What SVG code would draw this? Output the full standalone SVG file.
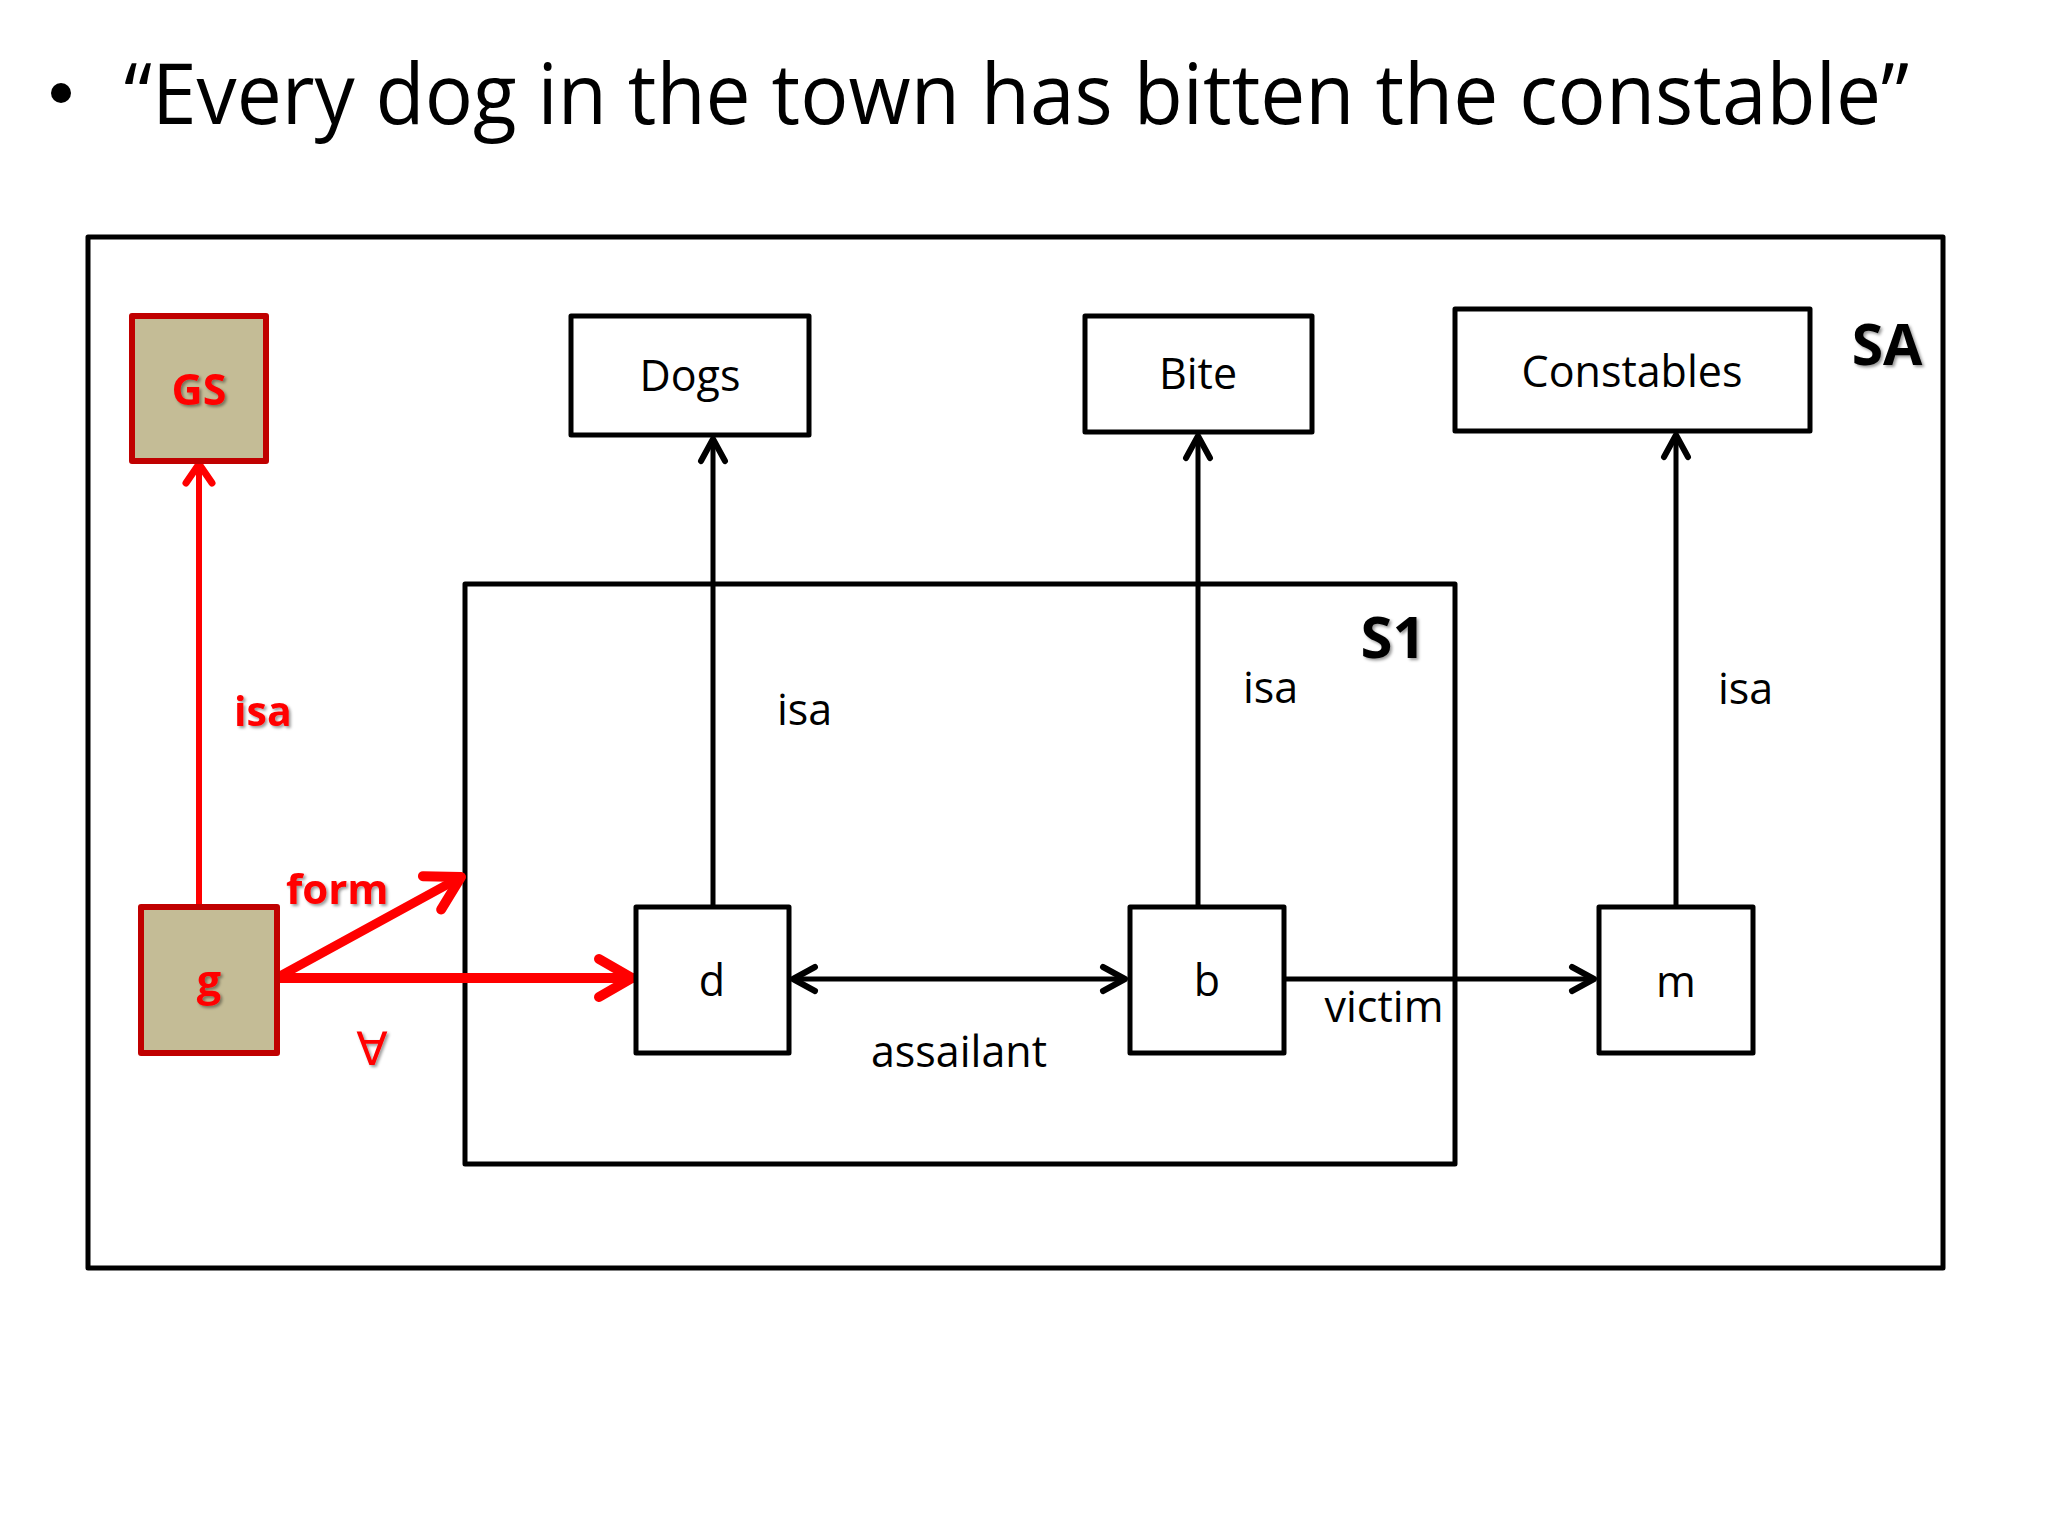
<svg xmlns="http://www.w3.org/2000/svg" width="2048" height="1536" viewBox="0 0 2048 1536">
<defs>
<style>
.box{fill:#fff;stroke:#000;stroke-width:5;stroke-linejoin:round}
.rbox{fill:#C4BC96;stroke:#C00000;stroke-width:6;stroke-linejoin:round}
.lbl{font-family:"Open Sans","Liberation Sans",sans-serif;font-size:43px;fill:#000}
.bold{font-family:"Open Sans","Liberation Sans",sans-serif;font-weight:bold}
.red{fill:#FF0000}
.blk{stroke:#000;stroke-width:5;fill:none}
.rl{stroke:#FF0000;fill:none;stroke-linecap:round}
</style>
<filter id="sh" x="-20%" y="-20%" width="140%" height="140%">
<feDropShadow dx="2" dy="2" stdDeviation="1.5" flood-color="#000" flood-opacity="0.4"/>
</filter>
<marker id="ab" markerUnits="userSpaceOnUse" markerWidth="40" markerHeight="40" viewBox="-30 -20 40 40" refX="0" refY="0" orient="auto-start-reverse">
<path d="M-22,-12 L0,0 L-22,12" fill="none" stroke="#000" stroke-width="6" stroke-linecap="round" stroke-linejoin="round"/>
</marker>
<marker id="ar" markerUnits="userSpaceOnUse" markerWidth="40" markerHeight="40" viewBox="-30 -20 40 40" refX="0" refY="0" orient="auto">
<path d="M-19,-13 L0,0 L-19,13" fill="none" stroke="#FF0000" stroke-width="7" stroke-linecap="round" stroke-linejoin="round"/>
</marker>
<marker id="arb" markerUnits="userSpaceOnUse" markerWidth="60" markerHeight="60" viewBox="-45 -30 60 60" refX="0" refY="0" orient="auto">
<path d="M-33,-19 L0,0 L-33,19" fill="none" stroke="#FF0000" stroke-width="10" stroke-linecap="round" stroke-linejoin="round"/>
</marker>
</defs>
<rect width="2048" height="1536" fill="#fff"/>

<g id="title">
<circle cx="61" cy="93" r="10" fill="#000"/>
<text x="124" y="124" font-family="Open Sans, Liberation Sans, sans-serif" font-size="84" textLength="1785" lengthAdjust="spacingAndGlyphs">“Every dog in the town has bitten the constable”</text>
</g>

<g id="SA">
<rect class="box" x="88" y="237" width="1855" height="1031"/>
<text class="bold" x="1887" y="365" font-size="57" text-anchor="middle" filter="url(#sh)">SA</text>
</g>

<g id="S1">
<rect class="box" x="465" y="584" width="990" height="580" fill="none"/>
<text class="bold" x="1393" y="658" font-size="58" text-anchor="middle" filter="url(#sh)">S1</text>
</g>

<g id="connectors">
<line class="rl" x1="199" y1="906" x2="199" y2="464" stroke-width="6" stroke-linecap="butt" marker-end="url(#ar)"/>
<line class="rl" x1="280" y1="976" x2="461" y2="877" stroke-width="9" marker-end="url(#arb)"/>
<line class="rl" x1="277" y1="978" x2="632" y2="978" stroke-width="10" stroke-linecap="butt" marker-end="url(#arb)"/>
<line class="blk" x1="713" y1="907" x2="713" y2="439" marker-end="url(#ab)"/>
<line class="blk" x1="1198" y1="907" x2="1198" y2="436" marker-end="url(#ab)"/>
<line class="blk" x1="1676" y1="907" x2="1676" y2="435" marker-end="url(#ab)"/>
<line class="blk" x1="793" y1="979" x2="1125" y2="979" stroke-width="7" marker-start="url(#ab)" marker-end="url(#ab)"/>
<line class="blk" x1="1284" y1="979" x2="1594" y2="979" marker-end="url(#ab)"/>
<text class="bold red" x="234" y="726" font-size="41" filter="url(#sh)">isa</text>
<text class="bold red" x="286" y="904" font-size="42" filter="url(#sh)">form</text>
<text x="372" y="1065" font-family="DejaVu Sans, sans-serif" font-size="46" fill="#FF0000" text-anchor="middle" filter="url(#sh)">∀</text>
<text class="lbl" x="777" y="725">isa</text>
<text class="lbl" x="1243" y="703">isa</text>
<text class="lbl" x="1718" y="704">isa</text>
<text class="lbl" x="959" y="1067" text-anchor="middle">assailant</text>
<text class="lbl" x="1384" y="1022" text-anchor="middle">victim</text>
</g>

<g id="GS">
<rect class="rbox" x="132" y="316" width="134" height="145"/>
<text class="bold red" x="199" y="405" font-size="43" text-anchor="middle" filter="url(#sh)">GS</text>
</g>

<g id="g">
<rect class="rbox" x="141" y="907" width="136" height="146"/>
<text class="bold red" x="209" y="996" font-size="43" text-anchor="middle" filter="url(#sh)">g</text>
</g>

<g id="Dogs">
<rect class="box" x="571" y="316" width="238" height="119"/>
<text class="lbl" x="690" y="391" text-anchor="middle">Dogs</text>
</g>

<g id="Bite">
<rect class="box" x="1085" y="316" width="227" height="116"/>
<text class="lbl" x="1198" y="389" text-anchor="middle">Bite</text>
</g>

<g id="Constables">
<rect class="box" x="1455" y="309" width="355" height="122"/>
<text class="lbl" x="1632" y="387" text-anchor="middle">Constables</text>
</g>

<g id="d">
<rect class="box" x="636" y="907" width="153" height="146"/>
<text class="lbl" x="712" y="996" text-anchor="middle">d</text>
</g>

<g id="b">
<rect class="box" x="1130" y="907" width="154" height="146"/>
<text class="lbl" x="1207" y="996" text-anchor="middle">b</text>
</g>

<g id="m">
<rect class="box" x="1599" y="907" width="154" height="146"/>
<text class="lbl" x="1676" y="997" text-anchor="middle">m</text>
</g>
</svg>
